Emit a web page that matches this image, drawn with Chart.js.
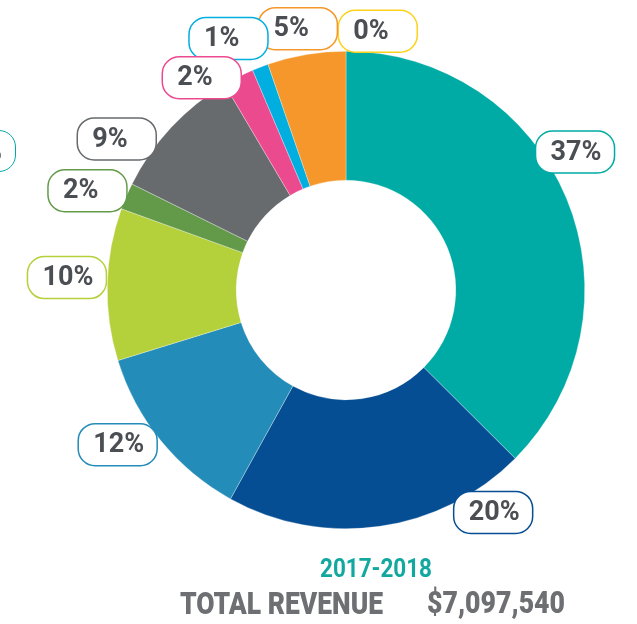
<!DOCTYPE html>
<html><head><meta charset="utf-8">
<script src="https://cdn.jsdelivr.net/npm/chart.js@4/dist/chart.umd.min.js"></script>
<style>
html,body{margin:0;padding:0;background:#fff;}
#wrap{position:relative;width:637px;height:624px;overflow:hidden;}
canvas{position:absolute;left:0;top:0;}
.cap{position:absolute;font-family:Roboto,"Liberation Sans",sans-serif;font-weight:900;white-space:nowrap;transform-origin:0 0;line-height:1;}
#year{left:320px;top:556px;font-size:25px;color:#12a89f;font-weight:700;}
#tot{left:180px;top:588px;font-size:31px;color:#6d6f72;}
#amt{left:427px;top:587px;font-size:31px;color:#6d6f72;}
#edge{position:absolute;left:-65px;top:130px;width:64px;height:40px;border:1.5px solid #00a9a5;border-radius:17px;background:#fff;font:700 27px Roboto,sans-serif;color:#4b4f54;line-height:40px;padding-left:15px;box-sizing:content-box;}
</style></head><body>
<div id="wrap"><canvas id="c" width="637" height="624"></canvas>
<div id="edge">37%</div>
<div class="cap" id="year" data-w="112">2017-2018</div>
<div class="cap" id="tot" data-w="203">TOTAL REVENUE</div>
<div class="cap" id="amt" data-w="138">$7,097,540</div>
</div>
<script>
// ---- data ----
const categories = ['Category 1','Category 2','Category 3','Category 4','Category 5','Category 6','Category 7','Category 8','Category 9','Category 10'];
const values = [37.5, 20.6, 12.2, 10.3, 1.8, 9.2, 2.1, 1.1, 5.3, 0];
const percentLabels = ['37%','20%','12%','10%','2%','9%','2%','1%','5%','0%'];
const colors = ['#00aba5','#064e94','#238cb9','#b4d03a','#639a4a','#676b6e','#ec4a8f','#00aee0','#f5972a','#fcd21c'];

// ---- label placement (relative to each arc: angle nudge in degrees, radius as factor of outer radius) ----
const labelNudgeDeg = [-8.5, -25.4, 5, 1.2, -2.1, -9.5, -7.4, -4, -0.9, 7];
const labelRadius = [1.12, 1.117, 1.155, 1.17, 1.16, 1.15, 1.075, 1.163, 1.113, 1.092];

// fit caption text widths (condensed look)
document.querySelectorAll('.cap').forEach(el => {
  const w = el.getBoundingClientRect().width;
  const target = parseFloat(el.dataset.w);
  el.style.transform = 'scaleX(' + (target / w).toFixed(3) + ')';
});

function roundRect(ctx, x, y, w, h, r) {
  ctx.beginPath();
  ctx.moveTo(x + r, y);
  ctx.lineTo(x + w - r, y);
  ctx.arcTo(x + w, y, x + w, y + r, r);
  ctx.lineTo(x + w, y + h - r);
  ctx.arcTo(x + w, y + h, x + w - r, y + h, r);
  ctx.lineTo(x + r, y + h);
  ctx.arcTo(x, y + h, x, y + h - r, r);
  ctx.lineTo(x, y + r);
  ctx.arcTo(x, y, x + r, y, r);
  ctx.closePath();
}

const labelPlugin = {
  id: 'boxLabels',
  afterDatasetsDraw(chart) {
    const ctx = chart.ctx;
    const meta = chart.getDatasetMeta(0);
    const bw = 79, bh = 42;
    ctx.save();
    for (let i = meta.data.length - 1; i >= 0; i--) {
      const arc = meta.data[i];
      const p = arc.getProps(['x','y','startAngle','endAngle','outerRadius'], true);
      const a = (p.startAngle + p.endAngle) / 2 + labelNudgeDeg[i] * Math.PI / 180;
      const r = p.outerRadius * labelRadius[i];
      const cx = p.x + r * Math.cos(a), cy = p.y + r * Math.sin(a);
      const bx = cx - bw / 2, by = cy - bh / 2;
      roundRect(ctx, bx, by, bw, bh, 17);
      ctx.fillStyle = '#ffffff';
      ctx.fill();
      ctx.lineWidth = 1.5;
      ctx.strokeStyle = colors[i];
      ctx.stroke();
      ctx.fillStyle = '#4b4f54';
      ctx.font = '700 27px Roboto, sans-serif';
      ctx.textAlign = 'left';
      ctx.textBaseline = 'middle';
      ctx.fillText(percentLabels[i], bx + 15, cy + 1);
    }
    ctx.restore();
  }
};

new Chart(document.getElementById('c'), {
  type: 'doughnut',
  data: {
    labels: categories,
    datasets: [{
      data: values,
      backgroundColor: colors,
      borderColor: 'rgba(255,255,255,0.6)',
      borderWidth: 0.5
    }]
  },
  options: {
    responsive: false,
    animation: false,
    cutout: '46%',
    layout: { padding: { left: 107, right: 52, top: 51, bottom: 95 } },
    plugins: { legend: { display: false }, tooltip: { enabled: false } }
  },
  plugins: [labelPlugin]
});
</script>
</body></html>
